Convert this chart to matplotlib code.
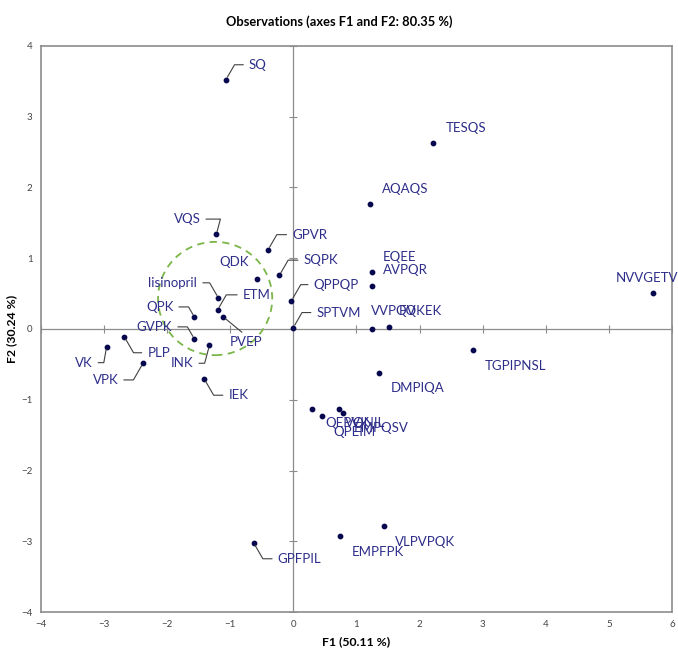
import numpy as np
import matplotlib.pyplot as plt
from matplotlib.patches import Ellipse

plt.rcParams['font.family'] = ['Lato', 'DejaVu Sans']

# observation labels and their F1/F2 scores
names = ['SQ', 'TESQS', 'AQAQS', 'VQS', 'GPVR', 'SQPK', 'QDK', 'QPPQP',
         'lisinopril', 'ETM', 'QPK', 'PVEP', 'SPTVM', 'GVPK', 'INK', 'PLP',
         'VK', 'VPK', 'IEK', 'EQEE', 'AVPQR', 'VVPQV', 'FQKEK', 'TGPIPNSL',
         'DMPIQA', 'QEPVK', 'QPEIM', 'VQNIL', 'EMPQSV', 'VLPVPQK', 'EMPFPK',
         'GPFPIL', 'NVVGETVE']
f1 = [-1.07, 2.22, 1.22, -1.22, -0.40, -0.22, -0.57, -0.03,
      -1.19, -1.20, -1.57, -1.11, 0.00, -1.57, -1.33, -2.68,
      -2.96, -2.38, -1.41, 1.24, 1.24, 1.24, 1.52, 2.84,
      1.35, 0.30, 0.46, 0.73, 0.78, 1.44, 0.74,
      -0.63, 5.70]
f2 = [3.52, 2.63, 1.77, 1.34, 1.12, 0.76, 0.71, 0.40,
      0.44, 0.27, 0.17, 0.17, 0.02, -0.14, -0.23, -0.11,
      -0.25, -0.48, -0.71, 0.80, 0.61, 0.00, 0.03, -0.30,
      -0.62, -1.13, -1.23, -1.13, -1.19, -2.78, -2.93,
      -3.02, 0.51]

# label offsets in pixels (dx, dy), alignment, leader angle (None = no leader, 'line' = straight)
offsets = [(23, 15, 'left', 60), (12, 15, 'left', None), (12, 15, 'left', None), (-16, 15, 'right', 75),
           (24, 15, 'left', 60), (24, 15, 'left', 60), (-9, 17, 'right', None), (22, 16, 'left', 60),
           (-21, 15, 'right', 120), (25, 15, 'left', 60), (-21, 10, 'right', 120), (23, -25, 'center', 'line'),
           (23, 15, 'left', 60), (-22, 12, 'right', 120), (-16, -18, 'right', 75), (23, -16, 'left', 120),
           (-14, -16, 'right', 80), (-25, -17, 'right', 60), (24, -16, 'left', 120), (11, 15, 'left', None),
           (11, 16, 'left', None), (-1, 18, 'left', None), (9, 16, 'left', None), (12, -16, 'left', None),
           (12, -15, 'left', None), (13, -14, 'left', None), (11, -16, 'left', None), (6, -14, 'left', None),
           (11, -15, 'left', None), (11, -16, 'left', None), (12, -16, 'left', None),
           (24, -16, 'left', 120), (-37, 15, 'left', None)]

title = 'Observations (axes F1 and F2: 80.35 %)'
xlab = 'F1 (50.11 %)'
ylab = 'F2 (30.24 %)'
xticks = np.arange(-4, 7)
yticks = np.arange(-4, 5)

navy = '#07074f'
label_col = '#2e2e8a'
grey = '#8c8c8c'

fig = plt.figure(figsize=(6.78, 6.54), dpi=100)
ax = fig.add_axes([0.0605, 0.064, 0.9305, 0.866])
ax.set_xlim(-4, 6)
ax.set_ylim(-4, 4)

ax.axhline(0, color=grey, lw=0.9, zorder=1)
ax.axvline(0, color=grey, lw=0.9, zorder=1)
# small tick marks on the zero lines
ax.plot(xticks, np.zeros_like(xticks), ls='none', marker='|', ms=6, color=grey, mew=0.8)
ax.plot(np.zeros_like(yticks), yticks, ls='none', marker='_', ms=6, color=grey, mew=0.8)

ax.scatter(f1, f2, s=10, color=navy, zorder=3)

for n, x, y, (dx, dy, ha, ang) in zip(names, f1, f2, offsets):
    kw = {}
    if ang == 'line':
        kw['arrowprops'] = dict(arrowstyle='-', color='#404040', lw=0.8,
                                relpos=(0.5, 1), shrinkA=1, shrinkB=2)
    elif ang is not None:
        rel = (0, 0.5) if ha == 'left' else (1, 0.5)
        kw['arrowprops'] = dict(arrowstyle='-', color='#404040', lw=0.8,
                                connectionstyle=f'angle,angleA=0,angleB={ang},rad=0',
                                relpos=rel, shrinkA=2, shrinkB=2)
    ax.annotate(n, (x, y), xytext=(dx, dy), textcoords='offset pixels',
                ha=ha, va='center', fontsize=9.5, color=label_col,
                annotation_clip=False, **kw)

ax.add_patch(Ellipse((-1.24, 0.43), 1.81, 1.60, fill=False, ls=(0, (4, 3)),
                     lw=1.3, color='#7ab648', zorder=2))

for s in ax.spines.values():
    s.set_color(grey)
    s.set_linewidth(1.2)
ax.set_xticks(xticks)
ax.set_yticks(yticks)
ax.tick_params(length=0, labelsize=7, colors='#444444', pad=6)
ax.set_xlabel(xlab, fontsize=8.8, fontweight='bold', labelpad=5)
ax.set_ylabel(ylab, fontsize=8.8, fontweight='bold', labelpad=3)
fig.suptitle(title, y=0.977, fontsize=9.3, fontweight='bold')

fig.savefig('out.png', dpi=100)
